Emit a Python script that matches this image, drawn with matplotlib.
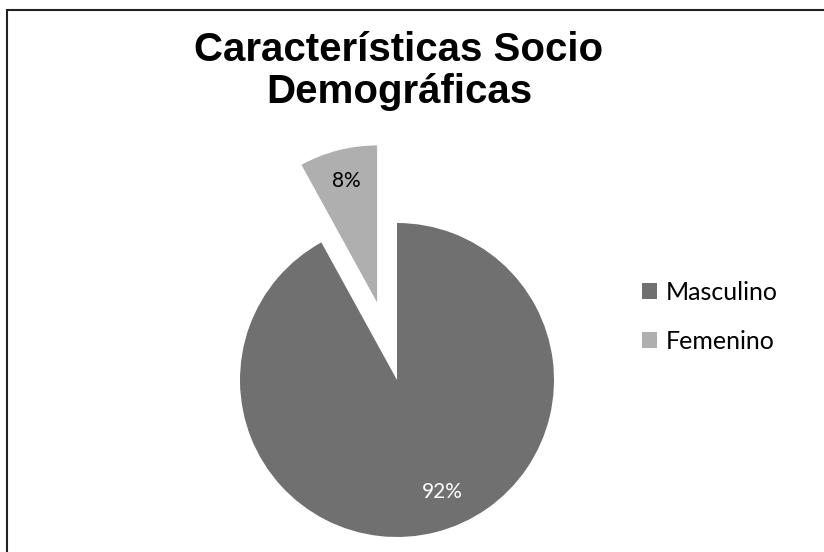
import matplotlib
matplotlib.use("Agg")
import matplotlib.pyplot as plt
from matplotlib.patches import Rectangle
import numpy as np

# Data
categories = ["Masculino", "Femenino"]
shares = [92, 8]
colors = ["#707070", "#afafaf"]
explode = [0.0, 0.51]
pct_dist = [0.77, 0.80]
pct_angle_shift = [7.5, 0.0]
title = "Características Socio\nDemográficas"

W, H = 824, 552
fig = plt.figure(figsize=(W / 100, H / 100), dpi=100)
fig.patch.set_facecolor("white")

# Pie axes span the whole figure; limits chosen so radius 1 = 157 px
ax = fig.add_axes([0, 0, 1, 1])
R = 157.0
cx, cy = 397.0, 380.0
wedges, _ = ax.pie(shares, colors=colors, explode=explode, startangle=90,
                   counterclock=False, radius=1.0,
                   wedgeprops=dict(linewidth=0))
ax.set_xlim(-cx / R, (W - cx) / R)
ax.set_ylim(-(H - cy) / R, cy / R)
ax.set_aspect("auto")
ax.axis("off")

# Percentage labels inside each wedge
total = sum(shares)
label_colors = ["white", "black"]
for w, v, d, s, c in zip(wedges, shares, pct_dist, pct_angle_shift, label_colors):
    mid = np.deg2rad((w.theta1 + w.theta2) / 2 + s)
    x0, y0 = w.center
    ax.text(x0 + d * np.cos(mid), y0 + d * np.sin(mid),
            f"{v / total * 100:.0f}%", ha="center", va="center",
            fontsize=15, color=c, family=["Lato", "DejaVu Sans"])

# Title
fig.text(399 / W, 1 - 31 / H, title, ha="center", va="top",
         fontsize=29, fontweight="bold", family=["Liberation Sans", "DejaVu Sans"],
         linespacing=1.12)

# Legend
leg = fig.legend(wedges, categories, loc="center left",
                 bbox_to_anchor=(619 / W, 1 - 317 / H), frameon=False,
                 prop=dict(family=["Lato", "DejaVu Sans"], size=18),
                 handlelength=0.6, handleheight=0.6, handletextpad=0.35,
                 labelspacing=1.05)

# Outer frame
fig.patches.append(Rectangle((7 / W, -0.05), 1.2, 1.05 - 10 / H,
                             transform=fig.transFigure, fill=False,
                             edgecolor="#222222", linewidth=1.5))

fig.savefig("out.png", dpi=100)
